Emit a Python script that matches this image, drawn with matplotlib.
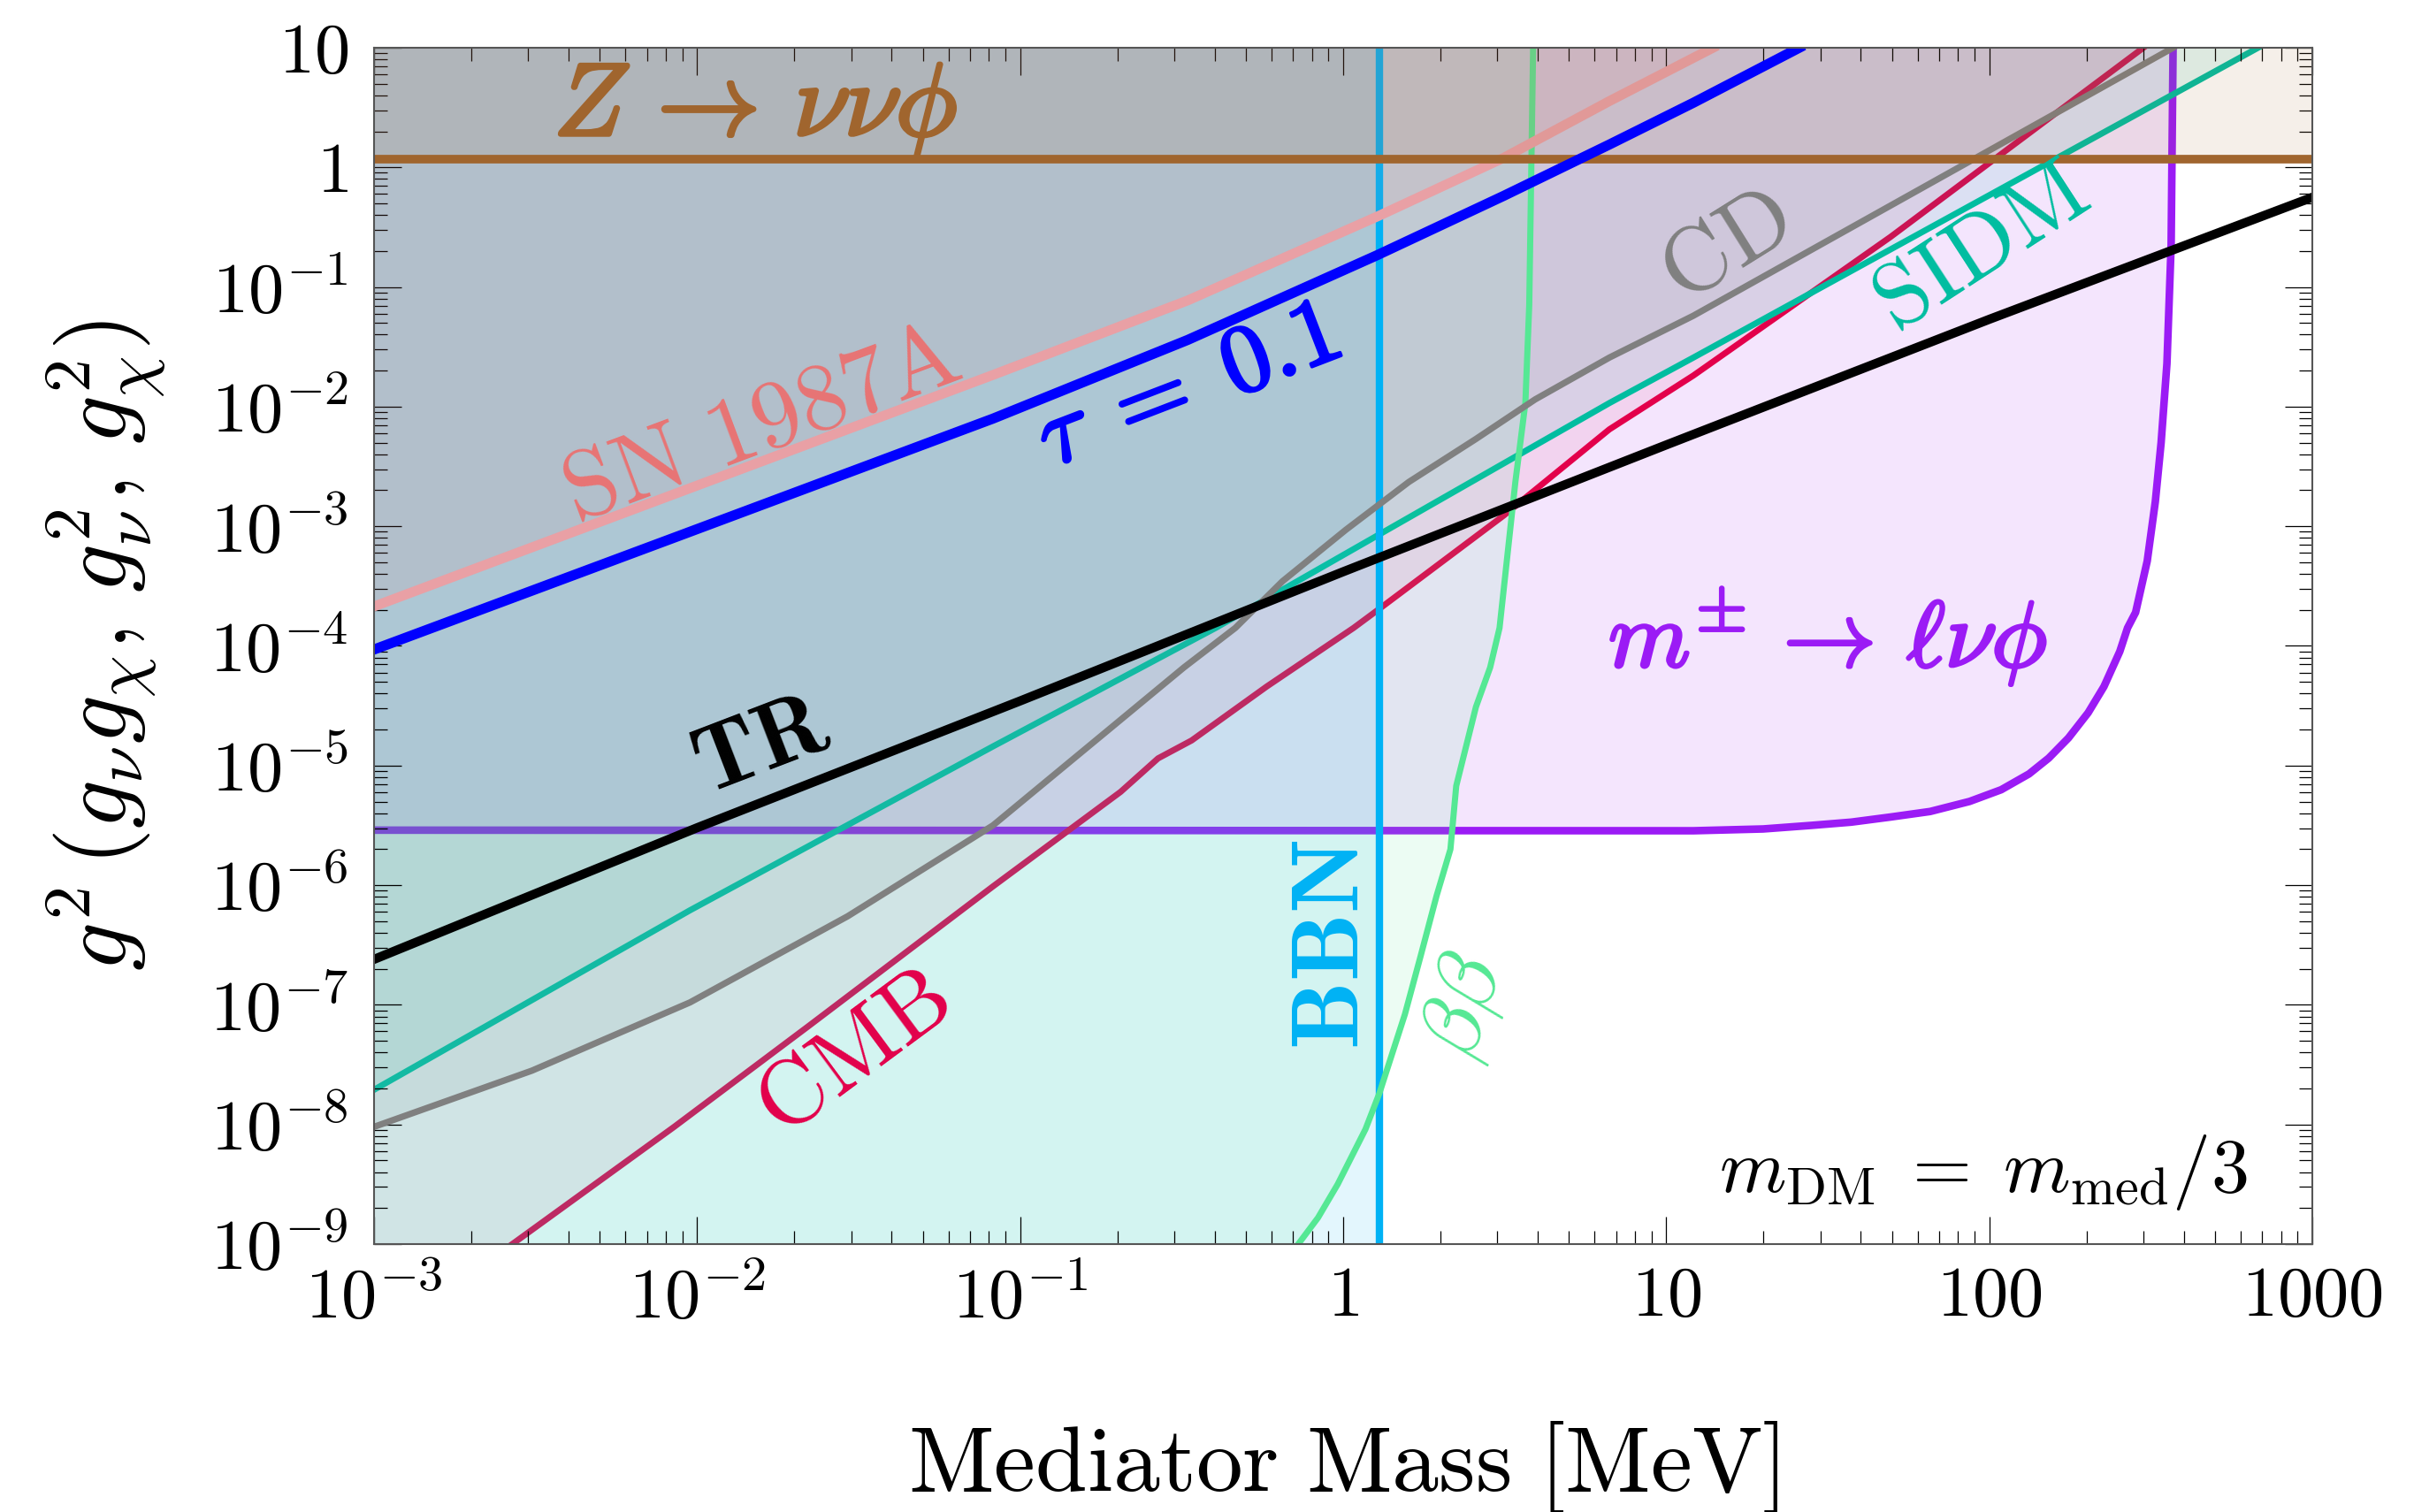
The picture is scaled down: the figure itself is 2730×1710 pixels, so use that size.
import numpy as np
import matplotlib
matplotlib.use("Agg")
import matplotlib.pyplot as plt
import matplotlib.patheffects as pe
from matplotlib.ticker import LogLocator, NullFormatter

plt.rcParams["mathtext.fontset"] = "cm"
plt.rcParams["font.family"] = "serif"
plt.rcParams["font.serif"] = ["cmr10", "DejaVu Serif"]
plt.rcParams["axes.formatter.use_mathtext"] = True

# everything below is log10(mediator mass / MeV) and log10(g^2)
m_lo, m_hi = -3, 3
g_lo, g_hi = -9, 1

z_logg = 0.07          # Z -> nu nu phi
bbn_logm = 0.112       # BBN bound

sn_logm = [-3, -2.04, -1.084, -0.481, 0, 0.112, 0.497, 0.824, 1.145]
sn_logg = [-3.67, -2.70, -1.735, -1.112, -0.537, -0.403, 0.08, 0.554, 1.0]

tau_logm = [-3, -2.042, -1.084, -0.481, 0.106, 0.497, 0.824, 1.084, 1.412]
tau_logg = [-4.03, -3.066, -2.10, -1.442, -0.733, -0.238, 0.191, 0.54, 1.0]

tr_logm = [-3, -2, -1, 0, 1, 2, 3]
tr_logg = [-6.62, -5.52, -4.46, -3.38, -2.32, -1.27, -0.25]

sidm_logm = [-3, -2.022, -1.084, -0.395, 0.13, 0.824, 1.084, 2.832]
sidm_logg = [-7.71, -6.21, -4.84, -3.85, -3.04, -1.97, -1.59, 1.0]

cd_logm = [-3, -2.511, -2.022, -1.534, -1.084, -0.493, -0.334, -0.188, 0.008,
           0.203, 0.411, 0.594, 0.824, 1.084, 2.569]
cd_logg = [-8.02, -7.55, -6.98, -6.26, -5.50, -4.18, -3.85, -3.46, -3.03,
           -2.63, -2.27, -1.94, -1.59, -1.24, 1.0]

cmb_logm = [-2.572, -2.071, -1.656, -1.084, -0.689, -0.573, -0.469, -0.237,
            0.032, 0.112, 0.497, 0.824, 1.084, 1.695, 2.477]
cmb_logg = [-9.0, -8.02, -7.18, -6.01, -5.22, -4.94, -4.79, -4.34,
            -3.85, -3.69, -2.91, -2.19, -1.74, -0.58, 1.0]

bb_logm = [-0.139, -0.078, -0.017, 0.069, 0.112, 0.191, 0.240, 0.289, 0.332,
           0.35, 0.411, 0.455, 0.484, 0.533, 0.564, 0.576, 0.588]
bb_logg = [-9.0, -8.78, -8.50, -8.04, -7.74, -7.08, -6.59, -6.09, -5.70,
           -5.17, -4.51, -4.18, -3.85, -2.63, -1.97, -1.15, 1.0]

mpm_logm = [-3, 1.084, 1.30, 1.45, 1.573, 1.695, 1.817, 1.939, 2.037, 2.123,
            2.184, 2.245, 2.306, 2.355, 2.404, 2.428, 2.453, 2.489, 2.514,
            2.532, 2.550, 2.563, 2.569]
mpm_logg = [-5.54, -5.545, -5.53, -5.50, -5.473, -5.43, -5.384, -5.30, -5.202,
            -5.07, -4.938, -4.77, -4.559, -4.34, -4.047, -3.85, -3.72, -3.29,
            -2.795, -2.30, -1.64, -0.65, 1.0]

xtick_vals = [1e-3, 1e-2, 1e-1, 1, 10, 100, 1000]
xtick_labels = ["$10^{-3}$", "$10^{-2}$", "$10^{-1}$", "$1$", "$10$", "$100$", "$1000$"]
ytick_vals = [10.0 ** k for k in range(-9, 2)]
ytick_labels = ["$10^{%d}$" % k for k in range(-9, -1)] + ["$10^{-1}$", "$1$", "$10$"]

c_z = "#a0652e"
c_sn = "#e87474"
c_snline = "#e9a0a5"
c_tau = "#0000ff"
c_sidm = "#00bda0"
c_cd = "#808080"
c_cmb = "#e3004b"
c_bbn = "#00b2f5"
c_bb = "#55e894"
c_mpm = "#9b1bf5"


def above(lm, lg):
    # region above/left of a curve that ends on the top edge
    xs = list(lm) + [m_lo]
    ys = list(lg) + [g_hi]
    if lg[0] <= g_lo:
        xs.append(m_lo)
        ys.append(g_lo)
    return 10.0 ** np.array(xs), 10.0 ** np.array(ys)


def curve(lm, lg):
    return 10.0 ** np.array(lm), 10.0 ** np.array(lg)


fig = plt.figure(figsize=(27.3, 17.1), dpi=100)
ax = fig.add_axes([423 / 2730, 1 - 1407 / 1710, 2192 / 2730, 1353 / 1710])
ax.set_xscale("log")
ax.set_yscale("log")
ax.set_xlim(10.0 ** m_lo, 10.0 ** m_hi)
ax.set_ylim(10.0 ** g_lo, 10.0 ** g_hi)

fa = 0.1
# m+- -> l nu phi
ax.fill(*above(mpm_logm, mpm_logg), color=c_mpm, alpha=0.11, lw=0, zorder=1.0)
ax.plot(*curve(mpm_logm, mpm_logg), color=c_mpm, lw=6.2, zorder=1.05,
        solid_joinstyle="round")
# CMB
ax.fill(*above(cmb_logm, cmb_logg), color=c_cmb, alpha=0.08, lw=0, zorder=1.1)
ax.plot(*curve(cmb_logm, cmb_logg), color=c_cmb, lw=5.0, zorder=1.15)
# SIDM
ax.fill(*above(sidm_logm, sidm_logg), color=c_sidm, alpha=fa, lw=0, zorder=1.2)
ax.plot(*curve(sidm_logm, sidm_logg), color=c_sidm, lw=5.0, zorder=1.25)
# CD
ax.fill(*above(cd_logm, cd_logg), color=c_cd, alpha=fa, lw=0, zorder=1.3)
# BBN
ax.axvspan(10.0 ** m_lo, 10.0 ** bbn_logm, color=c_bbn, alpha=0.11, lw=0, zorder=1.4)
# double beta
ax.fill(*above(bb_logm, bb_logg), color=c_bb, alpha=0.11, lw=0, zorder=1.5)
ax.axvline(10.0 ** bbn_logm, color=c_bbn, lw=6.0, zorder=1.52)
ax.plot(*curve(bb_logm, bb_logg), color=c_bb, lw=5.0, zorder=1.55)
ax.plot(*curve(cd_logm, cd_logg), color=c_cd, lw=5.2, zorder=1.57)
# SN 1987A
ax.fill(*above(sn_logm, sn_logg), color=c_sn, alpha=0.09, lw=0, zorder=1.6)
ax.plot(*curve(sn_logm, sn_logg), color=c_snline, lw=8, zorder=1.65)
# Z decay
ax.axhspan(10.0 ** z_logg, 10.0 ** g_hi, color=c_z, alpha=0.1, lw=0, zorder=1.7)
ax.axhline(10.0 ** z_logg, color=c_z, lw=7, zorder=1.75)
# tau = 0.1 and thermal relic
ax.plot(*curve(tau_logm, tau_logg), color=c_tau, lw=8.2, zorder=2.0)
ax.plot(*curve(tr_logm, tr_logg), color="black", lw=7.4, zorder=2.1)


def label(lx, ly, s, color, size, rot=0, bold=0.0):
    t = ax.text(10.0 ** lx, 10.0 ** ly, s, color=color, fontsize=size, rotation=rot,
                rotation_mode="anchor", ha="center", va="center", zorder=3)
    if bold:
        t.set_path_effects([pe.withStroke(linewidth=bold, foreground=color)])


label(-1.82, 0.48, r"$Z \,\to\, \nu\nu\phi$", c_z, 84, bold=3.0)
label(-1.80, -2.17, r"$\mathrm{SN\ 1987A}$", c_sn, 78, rot=20.5)
label(-0.48, -1.85, r"$\tau \;=\; \mathbf{0.1}$", c_tau, 78, rot=21, bold=2.5)
label(-1.80, -4.85, r"$\mathbf{TR}$", "black", 76, rot=21)
label(-1.51, -7.43, r"$\mathrm{CMB}$", c_cmb, 76, rot=36.5)
label(1.19, -0.68, r"$\mathrm{CD}$", c_cd, 76, rot=32)
label(1.98, -0.69, r"$\mathrm{SIDM}$", c_sidm, 74, rot=33)
label(-0.03, -6.50, r"$\mathbf{BBN}$", c_bbn, 78, rot=90)
label(0.378, -7.02, r"$\beta\beta$", c_bb, 72, rot=73)
label(1.50, -3.92, r"$m^{\pm} \,\to\, \ell\nu\phi$", c_mpm, 76, bold=2.5)
label(1.98, -8.40, r"$m_{\mathrm{DM}} \;=\; m_{\mathrm{med}}/3$", "black", 62)

ax.set_xticks(xtick_vals, xtick_labels)
ax.set_yticks(ytick_vals, ytick_labels)
ax.xaxis.set_minor_locator(LogLocator(base=10, subs=np.arange(2, 10), numticks=20))
ax.yaxis.set_minor_locator(LogLocator(base=10, subs=np.arange(2, 10), numticks=20))
ax.xaxis.set_minor_formatter(NullFormatter())
ax.yaxis.set_minor_formatter(NullFormatter())
ax.tick_params(which="both", direction="in", top=True, right=True, width=0.9, colors="black")
ax.tick_params(which="major", length=22, labelsize=58)
ax.tick_params(which="minor", length=11)
ax.tick_params(axis="x", which="major", pad=18)
ax.tick_params(axis="y", which="major", pad=21)
for sp in ax.spines.values():
    sp.set_color("#555555")
    sp.set_linewidth(1.5)
    sp.set_zorder(4)

ax.set_xlabel(r"$\mathrm{Mediator\ Mass\ [MeV]}$", fontsize=76, va="top")
ax.xaxis.set_label_coords(0.5, -0.146)
ax.set_ylabel(r"$g^2\,(g_\nu g_\chi,\, g_\nu^2,\, g_\chi^2)$", fontsize=78, va="center")
ax.yaxis.set_label_coords((120 - 423) / 2192, 0.5)

fig.savefig("out.png", dpi=100)
